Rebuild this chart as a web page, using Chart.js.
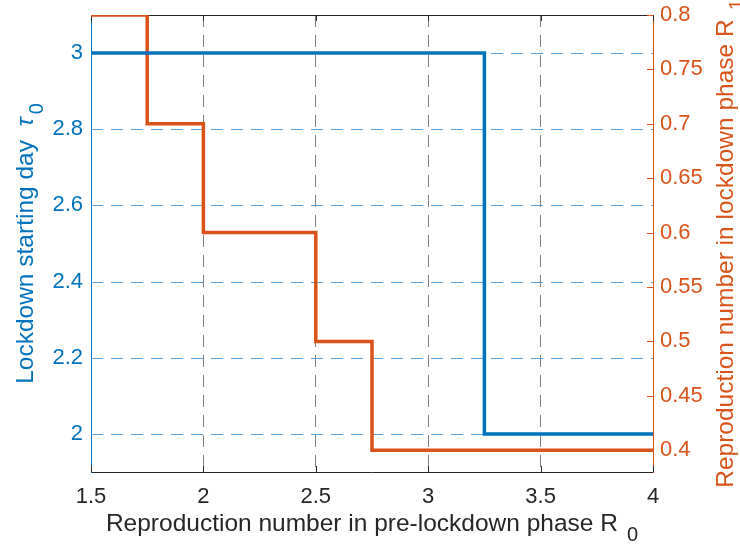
<!DOCTYPE html>
<html>
<head>
<meta charset="utf-8">
<script src="https://cdn.jsdelivr.net/npm/chart.js@4/dist/chart.umd.min.js"></script>
<style>
	html, body { margin: 0; padding: 0; background: #fff; }
	#wrap { width: 740px; height: 546px; }
</style>
</head>
<body>
<div id="wrap"><canvas id="stairsChart"></canvas></div>
<script>
// data (stairs: value holds until next x)
const r0Values = [1.5, 1.75, 2, 2.25, 2.5, 2.75, 3, 3.25, 3.5, 3.75, 4];
const tau0Values = [3, 3, 3, 3, 3, 3, 3, 2, 2, 2, 2];
const r1Values = [0.8, 0.7, 0.6, 0.6, 0.5, 0.4, 0.4, 0.4, 0.4, 0.4, 0.4];

const xTicks = [1.5, 2, 2.5, 3, 3.5, 4];
const leftTicks = [2, 2.2, 2.4, 2.6, 2.8, 3];
const rightTicks = [0.4, 0.45, 0.5, 0.55, 0.6, 0.65, 0.7, 0.75, 0.8];

const BLUE = "#0072BD";
const ORANGE = "#D95319";
const DARK = "#262626";
const GRID_BLUE = "#5aa0d8";
const GRID_GRAY = "#7f7f7f";
const FONT = "'Liberation Sans', Arial, Helvetica, sans-serif";

function setTicks(list) {
	return function (scale) {
		scale.ticks = list.map((v) => ({ value: v }));
	};
}

// fixed axis size, and no extra label padding above/below the plot
function fitWidth(w) {
	return function (scale) {
		scale.width = w;
		scale.paddingTop = 0;
		scale.paddingBottom = 0;
	};
}

// frame: blue left grid, top border line and short inward ticks
const framePlugin = {
	id: "frame",
	beforeDatasetsDraw(chart) {
		const { ctx, chartArea: a, scales } = chart;
		ctx.save();
		ctx.lineWidth = 1;

		ctx.strokeStyle = GRID_BLUE;
		ctx.setLineDash([12, 8]);
		leftTicks.forEach((v) => {
			const py = Math.round(scales.yL.getPixelForValue(v)) + 0.5;
			ctx.beginPath();
			ctx.moveTo(a.left, py);
			ctx.lineTo(a.right, py);
			ctx.stroke();
		});
		ctx.setLineDash([]);

		ctx.strokeStyle = DARK;
		ctx.beginPath();
		ctx.moveTo(a.left, a.top + 0.5);
		ctx.lineTo(a.right, a.top + 0.5);
		ctx.stroke();

		const len = 6;
		xTicks.forEach((v) => {
			const px = Math.round(scales.x.getPixelForValue(v)) + 0.5;
			ctx.beginPath();
			ctx.moveTo(px, a.bottom);
			ctx.lineTo(px, a.bottom - len);
			ctx.moveTo(px, a.top);
			ctx.lineTo(px, a.top + len);
			ctx.stroke();
		});
		ctx.strokeStyle = ORANGE;
		rightTicks.forEach((v) => {
			const py = Math.round(scales.yR.getPixelForValue(v)) + 0.5;
			ctx.beginPath();
			ctx.moveTo(a.right, py);
			ctx.lineTo(a.right - len, py);
			ctx.stroke();
		});
		ctx.restore();
	},
};

// axis titles with MATLAB-like subscripts
function drawTitle(ctx, parts, sub, subGap, center, color) {
	ctx.fillStyle = color;
	ctx.textBaseline = "alphabetic";
	ctx.textAlign = "left";
	let total = 0;
	parts.forEach((p) => {
		ctx.font = (p.italic ? "italic " : "") + "24.5px " + FONT;
		total += ctx.measureText(p.text).width;
	});
	ctx.font = "20px " + FONT;
	total += subGap + ctx.measureText(sub).width;
	let x = center - total / 2;
	parts.forEach((p) => {
		ctx.font = (p.italic ? "italic " : "") + "24.5px " + FONT;
		ctx.fillText(p.text, x, 0);
		x += ctx.measureText(p.text).width;
	});
	ctx.font = "20px " + FONT;
	ctx.fillText(sub, x + subGap, 10);
}

const titlePlugin = {
	id: "titles",
	afterDraw(chart) {
		const { ctx, chartArea: a } = chart;
		const cx = (a.left + a.right) / 2;
		const cy = (a.top + a.bottom) / 2;

		ctx.save();
		ctx.translate(0, 531);
		drawTitle(ctx, [{ text: "Reproduction number in pre-lockdown phase R" }], "0", 9, cx, DARK);
		ctx.restore();

		ctx.save();
		ctx.translate(33, 0);
		ctx.rotate(-Math.PI / 2);
		drawTitle(ctx, [{ text: "Lockdown starting day  " }, { text: "τ", italic: true }], "0", 3, -cy, BLUE);
		ctx.restore();

		ctx.save();
		ctx.translate(733, 0);
		ctx.rotate(-Math.PI / 2);
		drawTitle(ctx, [{ text: "Reproduction number in lockdown phase R" }], "1", 9, -cy, ORANGE);
		ctx.restore();
	},
};

document.addEventListener("DOMContentLoaded", function () {
	const ctx = document.getElementById("stairsChart").getContext("2d");

	new Chart(ctx, {
		type: "line",
		data: {
			datasets: [
				{
					label: "tau0",
					data: r0Values.map((x, i) => ({ x: x, y: tau0Values[i] })),
					yAxisID: "yL",
					borderColor: BLUE,
					borderWidth: 3.5,
					stepped: "before",
					pointRadius: 0,
					fill: false,
				},
				{
					label: "R1",
					data: r0Values.map((x, i) => ({ x: x, y: r1Values[i] })),
					yAxisID: "yR",
					borderColor: ORANGE,
					borderWidth: 3.5,
					stepped: "before",
					pointRadius: 0,
					fill: false,
				},
			],
		},
		options: {
			responsive: true,
			maintainAspectRatio: false,
			devicePixelRatio: 1,
			animation: false,
			layout: { padding: { top: 15, left: 0, right: 0, bottom: 0 } },
			plugins: {
				legend: { display: false },
				tooltip: { enabled: false },
			},
			scales: {
				x: {
					type: "linear",
					min: 1.5,
					max: 4,
					afterBuildTicks: setTicks(xTicks),
					afterFit: (s) => { s.height = 74; },
					grid: { color: GRID_GRAY, lineWidth: 1, drawTicks: false },
					border: { color: DARK, width: 1, dash: [12, 8] },
					ticks: {
						color: DARK,
						padding: 12,
						font: { family: FONT, size: 22 },
						callback: (v) => String(v),
					},
				},
				yL: {
					type: "linear",
					position: "left",
					min: 1.9,
					max: 3.1,
					afterBuildTicks: setTicks(leftTicks),
					afterFit: fitWidth(91),
					grid: { drawOnChartArea: false, drawTicks: false },
					border: { color: BLUE, width: 1 },
					ticks: {
						color: BLUE,
						padding: 8,
						font: { family: FONT, size: 22 },
						callback: (v) => String(v),
					},
				},
				yR: {
					type: "linear",
					position: "right",
					min: 0.38,
					max: 0.8,
					afterBuildTicks: setTicks(rightTicks),
					afterFit: fitWidth(87),
					grid: { drawOnChartArea: false, drawTicks: false },
					border: { color: ORANGE, width: 1 },
					ticks: {
						color: ORANGE,
						padding: 7,
						font: { family: FONT, size: 22 },
						callback: (v) => String(v),
					},
				},
			},
		},
		plugins: [framePlugin, titlePlugin],
	});
});
</script>
</body>
</html>
